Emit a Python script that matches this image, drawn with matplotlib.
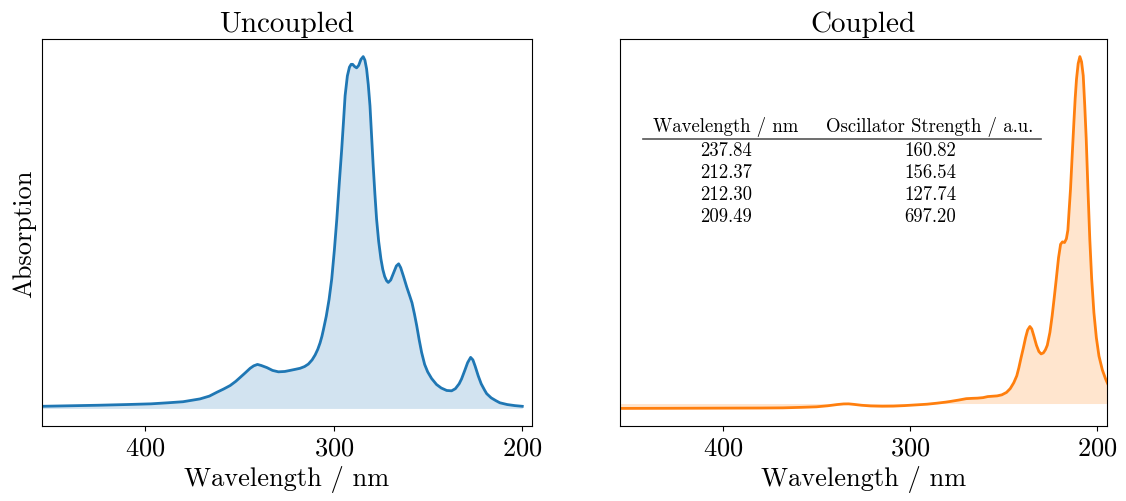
import numpy as np
import matplotlib
matplotlib.use("Agg")
import matplotlib.pyplot as plt

plt.rcParams['font.family'] = ['cmr10', 'DejaVu Serif']
plt.rcParams['mathtext.fontset'] = 'cm'
plt.rcParams['axes.formatter.use_mathtext'] = True

# Uncoupled spectrum (normalised absorption)
uncoupled_wl = [455, 440, 425, 410, 397, 388, 380, 371, 366, 362, 358.5, 355, 352, 349.7,
                347, 344.4, 342.5, 340.5, 338.5, 335.5, 332.5, 329.4, 326, 323.2, 320.5,
                317.9, 315.5, 313.5, 311.5, 309.9, 308.5, 307.3, 306.3, 305.5, 304.0, 302.5, 301.1,
                299.7, 298.4, 297.1, 295.8, 294.8, 294.0, 292.8, 291.7, 290.8, 290.0, 289.0,
                287.9, 286.8, 285.6, 284.4, 283.5, 282.6, 281.7, 280.8, 280.0, 279.1, 278.2,
                277.3, 276.2, 275.0, 274.0, 273.0, 272.0, 271.1, 269.8, 268.3, 266.8, 265.6, 264.5,
                263.0, 261.3, 259.6, 258.5, 257.2, 256.0, 254.7, 253.4, 251.8, 250.2, 248.1,
                245.5, 243.0, 240.1, 237.5, 235.5, 233.5, 232.2, 230.5, 229.0, 227.4, 226.2,
                225.0, 223.4, 221.8, 220.0, 218.9, 216.5, 214.0, 211.9, 208.0, 204.0, 200.0]
uncoupled_abs = [0.006, 0.0075, 0.009, 0.011, 0.013, 0.016, 0.019, 0.027, 0.035, 0.046, 0.055,
                 0.065, 0.077, 0.088, 0.101, 0.114, 0.121, 0.125, 0.122, 0.116, 0.108, 0.104,
                 0.105, 0.108, 0.111, 0.114, 0.119, 0.126, 0.138, 0.152, 0.168, 0.186, 0.205, 0.224,
                 0.262, 0.31, 0.368, 0.45, 0.538, 0.64, 0.737, 0.82, 0.889, 0.945, 0.970, 0.978,
                 0.978, 0.972, 0.968, 0.975, 0.992, 1.0, 0.99, 0.965, 0.92, 0.86, 0.78, 0.69,
                 0.61, 0.538, 0.475, 0.425, 0.395, 0.375, 0.363, 0.358, 0.365, 0.385, 0.405, 0.411, 0.40,
                 0.375, 0.345, 0.318, 0.30, 0.268, 0.235, 0.195, 0.159, 0.125, 0.104, 0.085,
                 0.068, 0.058, 0.051, 0.050, 0.056, 0.07, 0.084, 0.108, 0.13, 0.145, 0.138,
                 0.12, 0.093, 0.07, 0.052, 0.042, 0.030, 0.022, 0.016, 0.011, 0.008, 0.006]

# Coupled spectrum
coupled_wl = [455, 430, 400, 380, 368, 358, 350, 344, 339, 335.5, 332.8, 330, 326, 321, 315,
              309, 303, 297, 291, 285.6, 281, 278.5, 274, 270, 266.5, 264, 261, 258.5, 256,
              253.5, 251, 248.5, 246.5, 244.6, 243, 241.9, 240.8, 239.5, 238.3, 237.2, 236.0,
              235, 233.9, 232.5, 231.2, 230.0, 228.8, 227.7, 226.7, 225.3, 224.1, 223, 221.9,
              220.7, 219.6, 218.6, 217.5, 216.5, 215.7, 215.0, 214.3, 213.4, 212.5, 211.8,
              211.1, 210.2, 209.3, 208.4, 207.5, 206.7, 205.9, 205, 204.0, 203, 201.8, 200.5,
              199.1, 197.3, 195.5, 194]
coupled_abs = [-0.0141, -0.0138, -0.0133, -0.013, -0.0125, -0.011, -0.0095, -0.0065, -0.003,
               -0.0012, -0.001, -0.0025, -0.005, -0.007, -0.0078, -0.0075, -0.006, -0.004,
               -0.002, 0.001, 0.004, 0.006, 0.010, 0.014, 0.015, 0.0155, 0.017, 0.020, 0.021,
               0.022, 0.025, 0.032, 0.043, 0.06, 0.08, 0.103, 0.13, 0.16, 0.19, 0.212, 0.222,
               0.215, 0.195, 0.168, 0.150, 0.143, 0.146, 0.155, 0.168, 0.205, 0.253, 0.305,
               0.359, 0.42, 0.459, 0.466, 0.464, 0.475, 0.50, 0.56, 0.618, 0.715, 0.810, 0.88,
               0.935, 0.98, 1.0, 0.985, 0.945, 0.86, 0.762, 0.62, 0.474, 0.36, 0.262, 0.19,
               0.137, 0.097, 0.070, 0.052]

# Excited states table
table_header = ["Wavelength / nm", "Oscillator Strength / a.u."]
table_wavelengths = ["237.84", "212.37", "212.30", "209.49"]
table_strengths = ["160.82", "156.54", "127.74", "697.20"]

fig = plt.figure(figsize=(11.26, 5.02), dpi=100)
ax1 = fig.add_axes([0.0370, 0.1494, 0.4352, 0.7709])
ax2 = fig.add_axes([0.5506, 0.1494, 0.4322, 0.7709])

ax1.plot(uncoupled_wl, uncoupled_abs, color='C0', lw=2)
ax1.fill_between(uncoupled_wl, uncoupled_abs, color='C0', alpha=0.2, lw=0)
ax2.plot(coupled_wl, coupled_abs, color='C1', lw=2)
ax2.fill_between(coupled_wl, coupled_abs, color='C1', alpha=0.2, lw=0)

for ax, title in [(ax1, "Uncoupled"), (ax2, "Coupled")]:
    ax.set_xlim(455, 195)
    ax.set_xticks([400, 300, 200])
    ax.set_yticks([])
    ax.tick_params(axis='x', labelsize=19)
    ax.set_xlabel("Wavelength / nm", fontsize=19)
    ax.set_title(title, fontsize=21)

ax1.set_ylabel("Absorption", fontsize=19)

# table drawn as text in the coupled panel
col_x = [0.218, 0.637]
ax2.text(col_x[0], 0.775, table_header[0], transform=ax2.transAxes, ha='center', va='center', fontsize=13.5)
ax2.text(col_x[1], 0.775, table_header[1], transform=ax2.transAxes, ha='center', va='center', fontsize=13.5)
ax2.plot([0.047, 0.866], [0.742, 0.742], transform=ax2.transAxes, color='#555555', lw=1.2, clip_on=False)
for i, (w, s) in enumerate(zip(table_wavelengths, table_strengths)):
    y = 0.713 - i * 0.0565
    ax2.text(col_x[0], y, w, transform=ax2.transAxes, ha='center', va='center', fontsize=13.5)
    ax2.text(col_x[1], y, s, transform=ax2.transAxes, ha='center', va='center', fontsize=13.5)

plt.savefig("out.png", dpi=100)
